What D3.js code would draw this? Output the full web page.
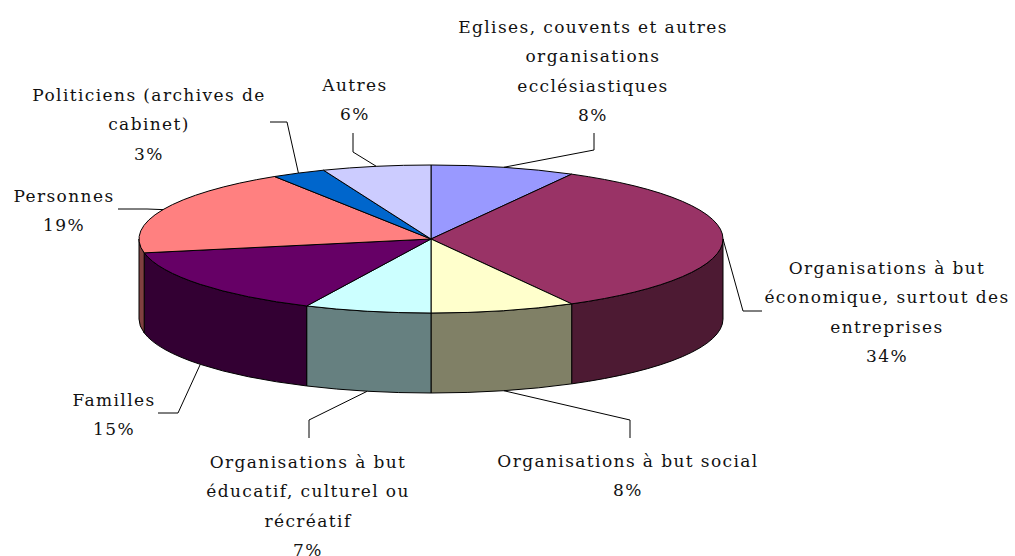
<!DOCTYPE html>
<html>
<head>
<meta charset="utf-8">
<script src="https://cdn.jsdelivr.net/npm/d3@7"></script>
<style>
  html, body { margin: 0; padding: 0; background: #fff; }
  svg { display: block; }
  text { font-family: "DejaVu Serif", serif; font-size: 17px; letter-spacing: 1.4px; fill: #111; }
</style>
</head>
<body>
<svg id="chart" width="1015" height="556"></svg>
<script>
// ---- data ----
const categories = [
  "Eglises, couvents et autres organisations ecclésiastiques",
  "Organisations à but économique, surtout des entreprises",
  "Organisations à but social",
  "Organisations à but éducatif, culturel ou récréatif",
  "Familles",
  "Personnes",
  "Politiciens (archives de cabinet)",
  "Autres"
];
const values = [8, 34, 8, 7, 15, 19, 3, 6];
const labelLines = [
  ["Eglises, couvents et autres", "organisations", "ecclésiastiques"],
  ["Organisations à but", "économique, surtout des", "entreprises"],
  ["Organisations à but social"],
  ["Organisations à but", "éducatif, culturel ou", "récréatif"],
  ["Familles"],
  ["Personnes"],
  ["Politiciens (archives de", "cabinet)"],
  ["Autres"]
];
const topColors  = ["#9999FF", "#993366", "#FFFFCC", "#CCFFFF", "#660066", "#FF8080", "#0066CC", "#CCCCFF"];
const sideColors = ["#4D4D80", "#4D1A33", "#808066", "#668080", "#330033", "#804040", "#003366", "#666680"];

// ---- layout (label placement: text centre, first line y, elbow, end) ----
const labelLayout = [
  {x: 593, y: 27,  elbow: [594, 150], end: [594, 133]},
  {x: 887, y: 268, elbow: [743, 311], end: [762, 311]},
  {x: 628, y: 461, elbow: [630, 420], end: [630, 438]},
  {x: 308, y: 462, elbow: [309, 420], end: [309, 438]},
  {x: 114, y: 400, elbow: [178, 413], end: [158, 413]},
  {x: 64,  y: 196, elbow: [147, 209], end: [118, 209]},
  {x: 149, y: 95,  elbow: [287, 122], end: [270, 122]},
  {x: 355, y: 85,  elbow: [353, 152], end: [353, 133]}
];
const lineH = 29.3;

const svg = d3.select("#chart");
const cx = 431, cy = 239, rx = 292, ry = 74, depth = 80;

// angle scale: d3.pie gives radians clockwise from 12 o'clock
const pie = d3.pie().sort(null).value(d => d)(values);
const px = a => cx + rx * Math.sin(a);
const py = a => cy - ry * Math.cos(a);

function topPath(a0, a1) {
  const large = (a1 - a0) > Math.PI ? 1 : 0;
  return `M${cx},${cy}L${px(a0)},${py(a0)}A${rx},${ry} 0 ${large} 1 ${px(a1)},${py(a1)}Z`;
}
function sidePath(a0, a1) {
  const large = (a1 - a0) > Math.PI ? 1 : 0;
  return `M${px(a0)},${py(a0)}A${rx},${ry} 0 ${large} 1 ${px(a1)},${py(a1)}` +
         `L${px(a1)},${py(a1) + depth}A${rx},${ry} 0 ${large} 0 ${px(a0)},${py(a0) + depth}Z`;
}

const gSide = svg.append("g");
const gTop = svg.append("g");

// side faces: only the front half (angles between PI/2 and 3PI/2)
pie.forEach((d, i) => {
  const a0 = Math.max(d.startAngle, Math.PI / 2);
  const a1 = Math.min(d.endAngle, 3 * Math.PI / 2);
  if (a1 > a0) {
    gSide.append("path")
      .attr("d", sidePath(a0, a1))
      .attr("fill", sideColors[i])
      .attr("stroke", "#000")
      .attr("stroke-width", 1)
      .attr("stroke-linejoin", "round");
  }
});

pie.forEach((d, i) => {
  gTop.append("path")
    .attr("d", topPath(d.startAngle, d.endAngle))
    .attr("fill", topColors[i])
    .attr("stroke", "#000")
    .attr("stroke-width", 1)
    .attr("stroke-linejoin", "round");
});

// labels + leader lines
const gLab = svg.append("g");
pie.forEach((d, i) => {
  const mid = (d.startAngle + d.endAngle) / 2;
  const front = Math.cos(mid) <= 0;
  const anchor = [px(mid), py(mid) + (front ? depth : 0)];
  const L = labelLayout[i];
  gLab.append("path")
    .attr("d", d3.line()([anchor, L.elbow, L.end]))
    .attr("fill", "none")
    .attr("stroke", "#000")
    .attr("stroke-width", 1);
  const lines = labelLines[i].concat([values[i] + "%"]);
  const t = gLab.append("text").attr("text-anchor", "middle");
  lines.forEach((s, k) => {
    t.append("tspan")
      .attr("x", L.x)
      .attr("y", L.y + k * lineH)
      .attr("dy", "0.35em")
      .text(s);
  });
});
</script>
</body>
</html>
